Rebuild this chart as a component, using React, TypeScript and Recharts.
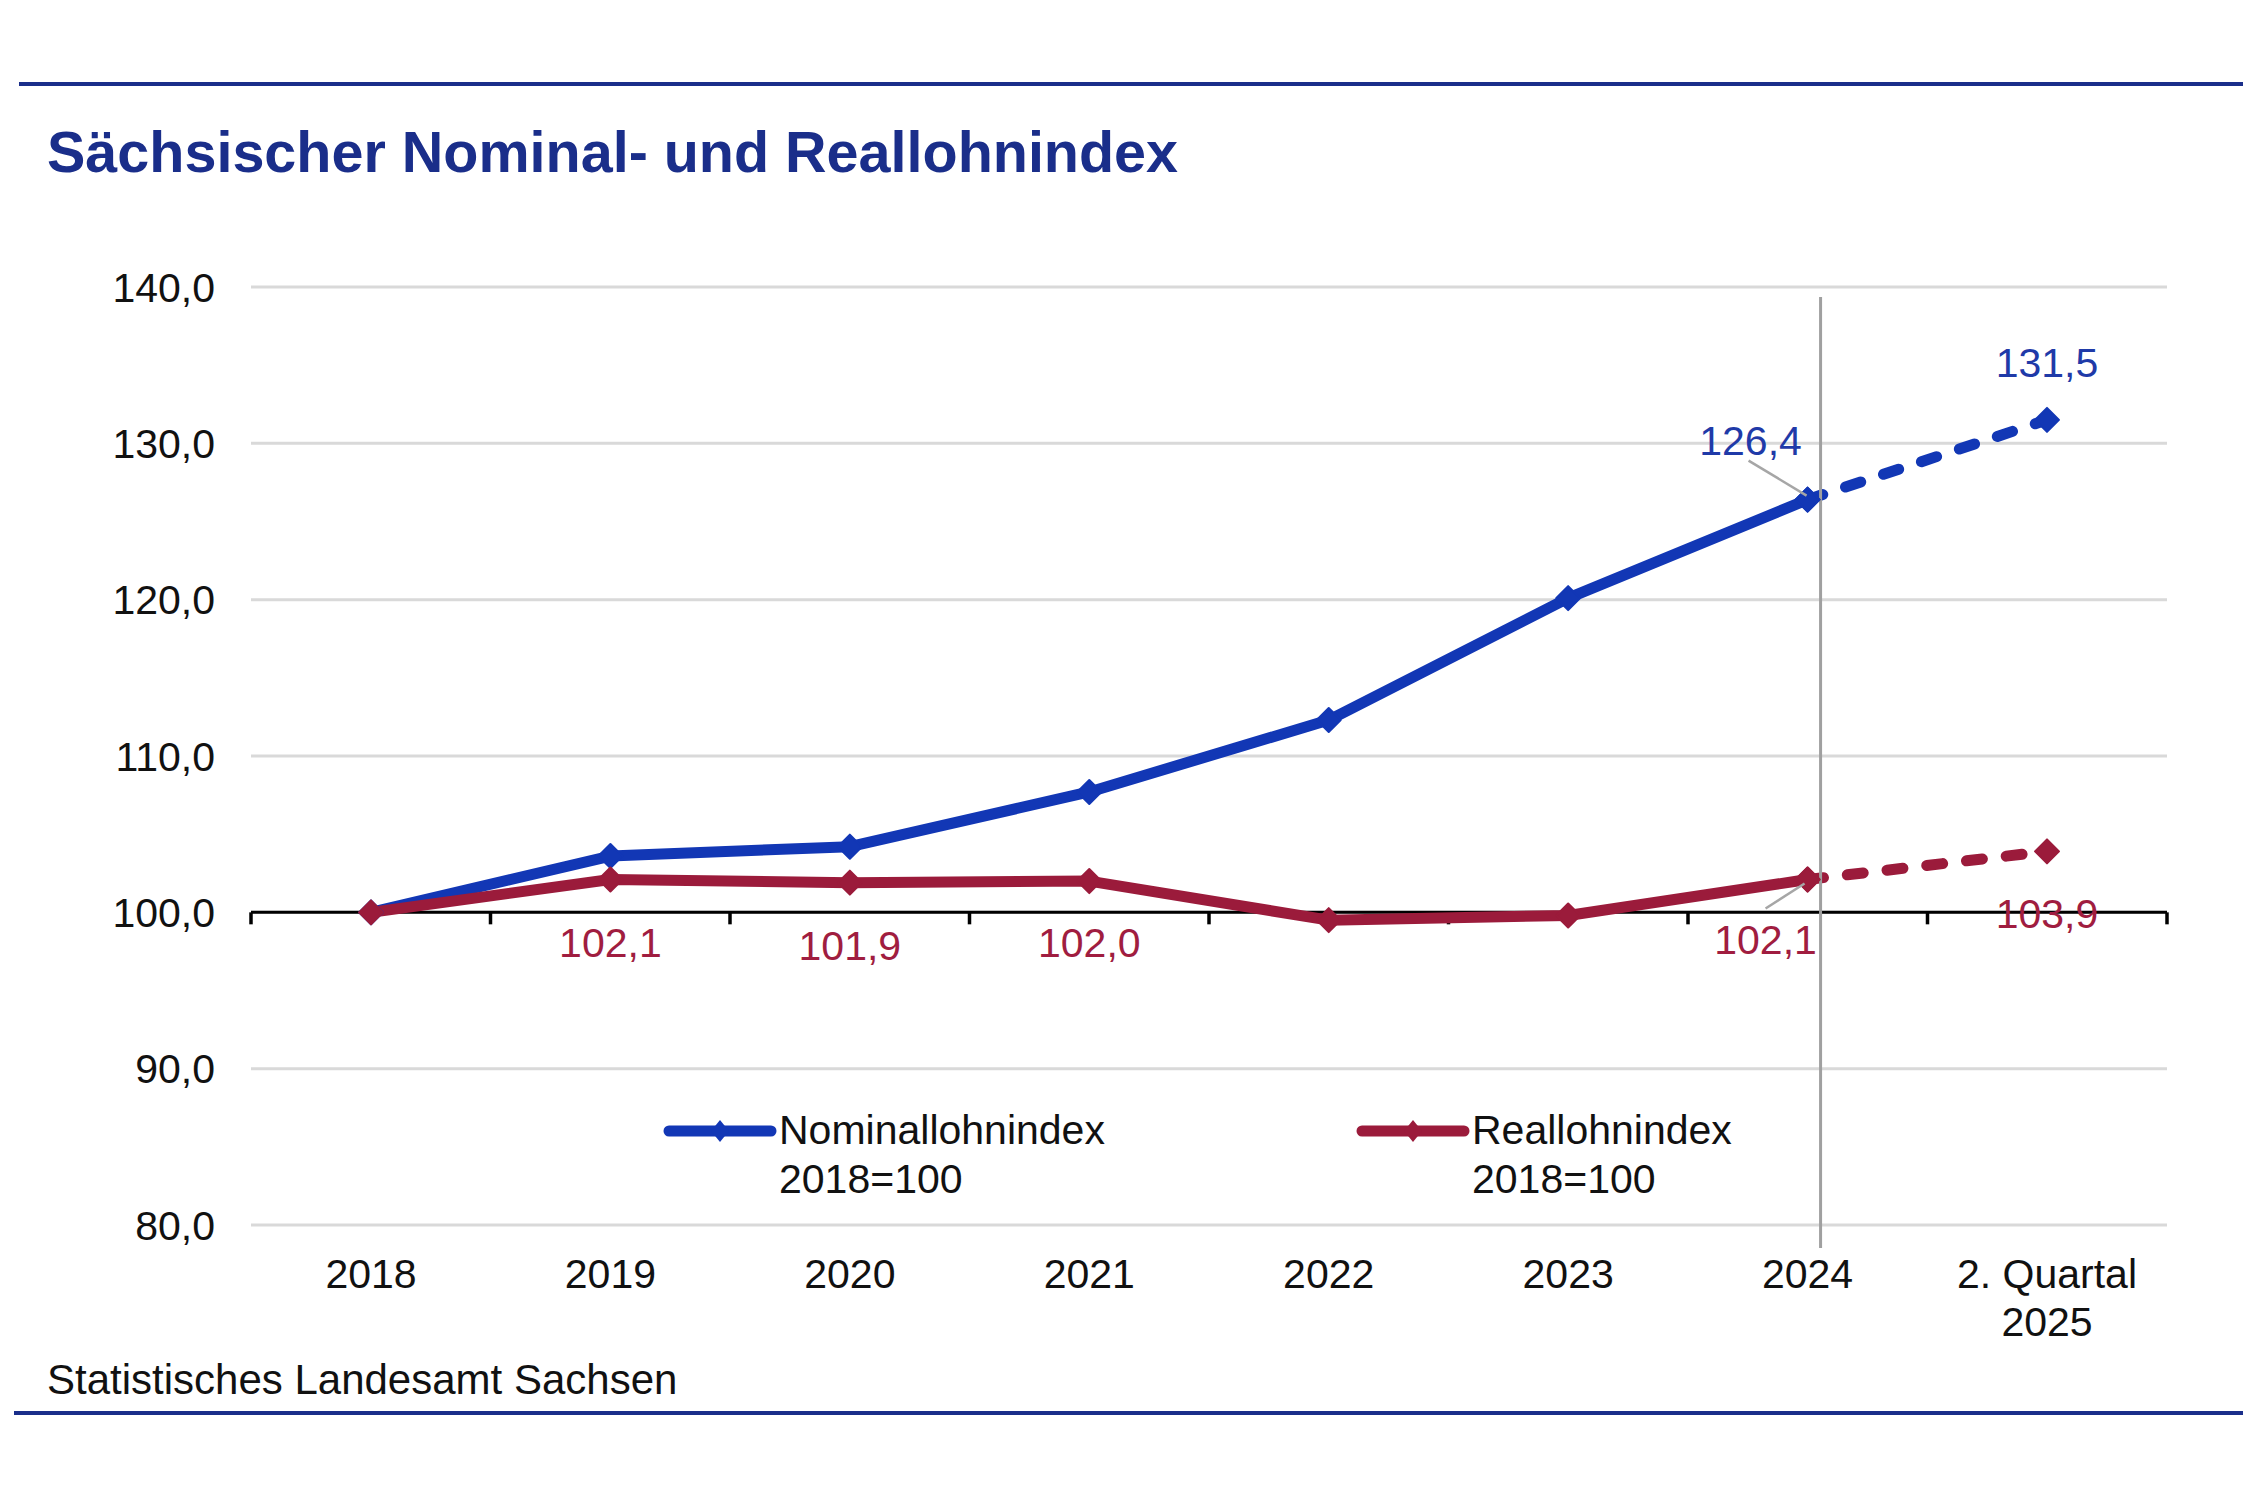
import React from 'react';
import { LineChart, Line, XAxis, YAxis, CartesianGrid, ReferenceLine, LabelList, Legend } from 'recharts';

// ---------- data ----------
const categories = ['2018', '2019', '2020', '2021', '2022', '2023', '2024', 'Q2-2025'];
const tickLabels = ['2018', '2019', '2020', '2021', '2022', '2023', '2024', '2. Quartal\n2025'];
const nominalValues = [100, 103.6, 104.2, 107.7, 112.3, 120.1, 126.4, 131.5];
const realValues = [100, 102.1, 101.9, 102.0, 99.5, 99.8, 102.1, 103.9];
const yTicks = [80, 90, 100, 110, 120, 130, 140];
const lastSolidIndex = 6; // 2024: afterwards dashed (provisional quarter)
const seriesNames = ['Nominallohnindex', 'Reallohnindex'];
const legendSubtitle = '2018=100';
const titleText = 'Sächsischer Nominal- und Reallohnindex';
const sourceText = 'Statistisches Landesamt Sachsen';
const nominalLabelIdx = [6, 7];
const realLabelIdx = [1, 2, 3, 6, 7];

// ---------- styles ----------
const FONT = '"Liberation Sans", Arial, Helvetica, sans-serif';
const NAVY = '#1a2e8a';
const BLUE = '#1237b5';
const BLUE_TXT = '#1f3aa8';
const RED = '#9b1b3b';
const RED_TXT = '#a01d40';
const GRID = '#d9d9d9';
const LEADER = '#a6a6a6';
const FS = 41;

type LabelPos = { dx: number; dy: number; leader?: [number, number, number, number] };
const nominalLabelPos: Record<number, LabelPos> = {
  6: { dx: -57, dy: -59, leader: [-59, -39, -1, -4] },
  7: { dx: 0, dy: -57 },
};
const realLabelPos: Record<number, LabelPos> = {
  1: { dx: 0, dy: 63 },
  2: { dx: 0, dy: 63 },
  3: { dx: 0, dy: 62 },
  6: { dx: -42, dy: 60, leader: [-42, 29, -3, 4] },
  7: { dx: 0, dy: 62 },
};

const fmt = (v: number) => v.toFixed(1).replace('.', ',');

const rows = categories.map((c, i) => ({
  cat: c,
  nomSolid: i <= lastSolidIndex ? nominalValues[i] : null,
  nomDash: i >= lastSolidIndex ? nominalValues[i] : null,
  realSolid: i <= lastSolidIndex ? realValues[i] : null,
  realDash: i >= lastSolidIndex ? realValues[i] : null,
}));

const makeDiamond = (color: string, r: number) => (props: any) => {
  const { cx, cy, index, value } = props;
  if (cx == null || cy == null || value == null || Number.isNaN(cy)) return <g key={`d-${index}`} />;
  return (
    <polygon
      key={`d-${index}`}
      points={`${cx},${cy - r} ${cx + r},${cy} ${cx},${cy + r} ${cx - r},${cy}`}
      fill={color}
      stroke={color}
      strokeWidth={2}
      strokeLinejoin="round"
    />
  );
};

const makeLabel = (color: string, indices: number[], pos: Record<number, LabelPos>) => (props: any) => {
  const { x, y, value, index } = props;
  if (!indices.includes(index) || value == null || x == null || y == null) return null;
  const p = pos[index];
  return (
    <g key={`l-${index}`}>
      {p.leader && (
        <line
          x1={x + p.leader[0]}
          y1={y + p.leader[1]}
          x2={x + p.leader[2]}
          y2={y + p.leader[3]}
          stroke={LEADER}
          strokeWidth={2.5}
        />
      )}
      <text x={x + p.dx} y={y + p.dy} dy="0.35em" textAnchor="middle" fill={color} fontSize={FS} fontFamily={FONT}>
        {fmt(Number(value))}
      </text>
    </g>
  );
};

const XTick = (props: any) => {
  const { x, y, payload } = props;
  const idx = categories.indexOf(payload.value);
  const lines = (tickLabels[idx] ?? String(payload.value)).split('\n');
  return (
    <text x={x} y={y} textAnchor="middle" fontSize={FS} fill="#111" fontFamily={FONT}>
      {lines.map((l, i) => (
        <tspan key={i} x={x} dy={i === 0 ? 63 : 48}>
          {l}
        </tspan>
      ))}
    </text>
  );
};

const legendItems = [
  { name: seriesNames[0], color: BLUE },
  { name: seriesNames[1], color: RED },
];

const LegendContent = () => (
  <div style={{ display: 'flex', fontFamily: FONT, fontSize: FS, color: '#111', lineHeight: '49px' }}>
    {legendItems.map((it) => (
      <div key={it.name} style={{ display: 'flex', width: 693, alignItems: 'flex-start' }}>
        <svg width={114} height={49} style={{ display: 'block' }}>
          <line x1={6} x2={108} y1={25} y2={25} stroke={it.color} strokeWidth={11} strokeLinecap="round" />
          <polygon points={`57,14 66,25 57,36 48,25`} fill={it.color} />
        </svg>
        <div style={{ marginLeft: 2 }}>
          <div>{it.name}</div>
          <div>{legendSubtitle}</div>
        </div>
      </div>
    ))}
  </div>
);

export default function App() {
  return (
    <div
      style={{
        position: 'absolute',
        left: 0,
        top: 0,
        width: 2250,
        height: 1500,
        background: '#fff',
        fontFamily: FONT,
        overflow: 'hidden',
      }}
    >
      <div style={{ position: 'absolute', left: 19, top: 82, width: 2224, height: 4, background: NAVY }} />
      <div
        style={{
          position: 'absolute',
          left: 47,
          top: 124,
          fontSize: 57.5,
          lineHeight: 1,
          fontWeight: 'bold',
          color: NAVY,
          whiteSpace: 'nowrap',
        }}
      >
        {titleText}
      </div>

      <div style={{ position: 'absolute', left: 0, top: 0 }}>
        <LineChart width={2250} height={1500} data={rows} margin={{ top: 287, right: 83, bottom: 215, left: 0 }}>
          <CartesianGrid vertical={false} stroke={GRID} strokeWidth={3} />
          <XAxis
            dataKey="cat"
            height={60}
            padding={{ left: 120, right: 120 }}
            axisLine={false}
            tickLine={false}
            tickSize={0}
            tickMargin={0}
            interval={0}
            tick={<XTick />}
          />
          <YAxis
            width={251}
            domain={[80, 140]}
            ticks={yTicks}
            axisLine={false}
            tickLine={false}
            tickSize={0}
            tickMargin={36}
            tickFormatter={(v: number) => fmt(v)}
            tick={{ fontSize: FS, fill: '#111', fontFamily: FONT }}
            interval={0}
          />
          <ReferenceLine
            y={100}
            shape={(p: any) => {
              const a = Math.min(p.x1, p.x2);
              const b = Math.max(p.x1, p.x2);
              const yy = p.y1;
              const n = categories.length;
              return (
                <g>
                  <line x1={a} x2={b} y1={yy} y2={yy} stroke="#000" strokeWidth={3} />
                  {Array.from({ length: n + 1 }, (_, i) => (
                    <line
                      key={i}
                      x1={a + (i * (b - a)) / n}
                      x2={a + (i * (b - a)) / n}
                      y1={yy}
                      y2={yy + 12}
                      stroke="#000"
                      strokeWidth={3.5}
                    />
                  ))}
                </g>
              );
            }}
          />
          <Line
            dataKey="nomSolid"
            stroke={BLUE}
            strokeWidth={11}
            strokeLinejoin="round"
            dot={makeDiamond(BLUE, 12)}
            activeDot={false}
            isAnimationActive={false}
            connectNulls={false}
          >
            <LabelList content={makeLabel(BLUE_TXT, nominalLabelIdx.filter((i) => i <= lastSolidIndex), nominalLabelPos)} />
          </Line>
          <Line
            dataKey="nomDash"
            stroke={BLUE}
            strokeWidth={11}
            strokeDasharray="16 24"
            strokeLinecap="round"
            dot={makeDiamond(BLUE, 12)}
            activeDot={false}
            isAnimationActive={false}
            legendType="none"
          >
            <LabelList content={makeLabel(BLUE_TXT, nominalLabelIdx.filter((i) => i > lastSolidIndex), nominalLabelPos)} />
          </Line>
          <Line
            dataKey="realSolid"
            stroke={RED}
            strokeWidth={11}
            strokeLinejoin="round"
            dot={makeDiamond(RED, 12)}
            activeDot={false}
            isAnimationActive={false}
          >
            <LabelList content={makeLabel(RED_TXT, realLabelIdx.filter((i) => i <= lastSolidIndex), realLabelPos)} />
          </Line>
          <Line
            dataKey="realDash"
            stroke={RED}
            strokeWidth={11}
            strokeDasharray="16 24"
            strokeLinecap="round"
            dot={makeDiamond(RED, 12)}
            activeDot={false}
            isAnimationActive={false}
            legendType="none"
          >
            <LabelList content={makeLabel(RED_TXT, realLabelIdx.filter((i) => i > lastSolidIndex), realLabelPos)} />
          </Line>
          <ReferenceLine
            x={categories[lastSolidIndex]}
            shape={(p: any) => {
              const top = Math.min(p.y1, p.y2);
              const bottom = Math.max(p.y1, p.y2);
              return (
                <line x1={p.x1 + 13} x2={p.x2 + 13} y1={top + 10} y2={bottom + 23} stroke="#a0a0a0" strokeWidth={3} />
              );
            }}
          />
          <Legend
            verticalAlign="middle"
            align="center"
            layout="horizontal"
            wrapperStyle={{ left: 663, top: 1106, width: 1400, height: 100 }}
            content={() => <LegendContent />}
          />
        </LineChart>
      </div>

      <div
        style={{
          position: 'absolute',
          left: 47,
          top: 1359,
          fontSize: 42,
          lineHeight: 1,
          color: '#111',
          whiteSpace: 'nowrap',
        }}
      >
        {sourceText}
      </div>
      <div style={{ position: 'absolute', left: 14, top: 1411, width: 2229, height: 4, background: NAVY }} />
    </div>
  );
}
